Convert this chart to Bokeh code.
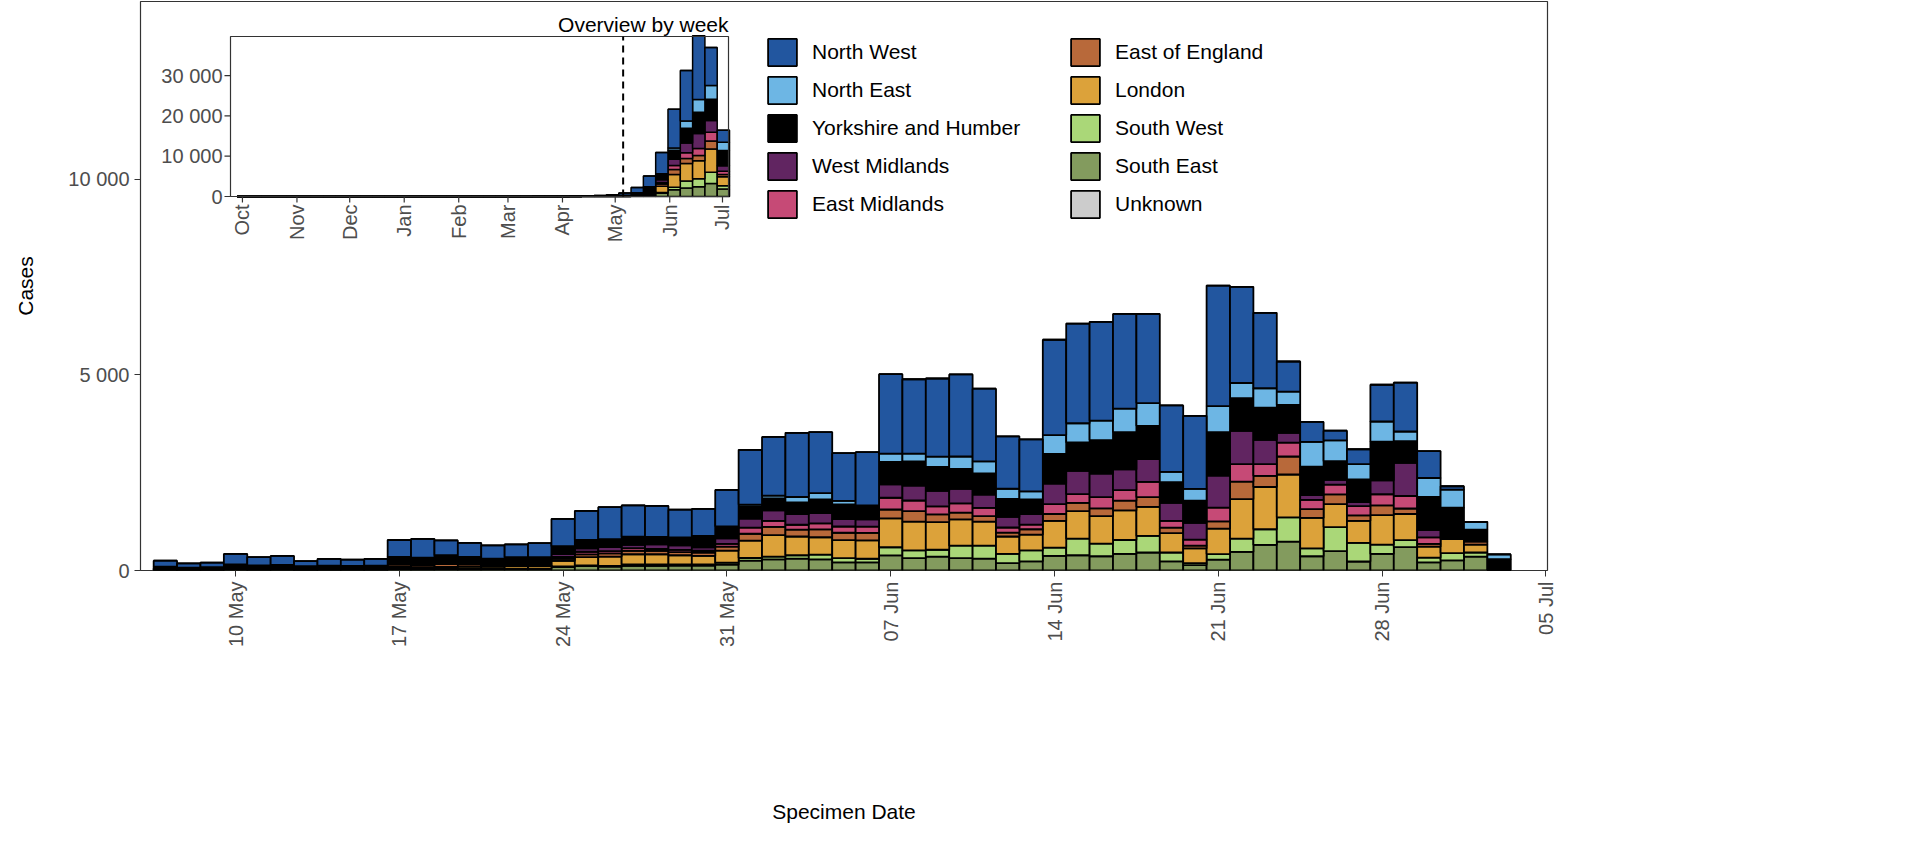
import math
import numpy as np
import pandas as pd
from bokeh.plotting import figure
from bokeh.models import (Range1d, FixedTicker, DatetimeTickFormatter, CustomJSTickFormatter,
                          ColumnDataSource, Legend, LegendItem)
from bokeh.core.properties import value
from bokeh.embed import file_html
from bokeh.resources import INLINE

# ---------------- data ----------------
start_day = "2021-05-07"
n_days = 58
regions = ["North West", "North East", "Yorkshire and Humber", "West Midlands", "East Midlands",
           "East of England", "London", "South West", "South East", "Unknown"]
colors = ["#22569f", "#6db6e4", "#000000", "#612561", "#c64a76",
          "#b8693a", "#dca23a", "#aad778", "#839b5e", "#cccccc"]
stack_order = ["South East", "South West", "London", "East of England", "East Midlands",
               "West Midlands", "Yorkshire and Humber", "North East", "North West", "Unknown"]

north_west = [150, 110, 120, 270, 210, 230, 130, 170, 160, 170, 430, 480, 380, 360, 340, 330, 360,
              700, 740, 820, 800, 790, 710, 690, 930,
              1400, 1500, 1640, 1560, 1220, 1360,
              2030, 1900, 2000, 2100, 1860, 1340, 1330,
              2440, 2550, 2530, 2420, 2280, 1700, 1870,
              3080, 2460, 1930, 770, 510, 250, 380,
              940, 1250, 690, 85, 0, 0]
north_east = [0] * 25 + [55, 70, 140, 160, 90, 30,
              210, 200, 260, 320, 305, 260, 210,
              480, 490, 495, 600, 580, 260, 300,
              670, 390, 495, 340, 635, 530, 390,
              515, 250, 480, 465, 200, 120]
yorkshire = [50, 35, 40, 80, 70, 75, 60, 65, 60, 65, 175, 175, 190, 155, 140, 170, 170,
             200, 220, 200, 210, 190, 200, 290, 310,
             300, 305, 300, 355, 375, 325,
             580, 620, 615, 510, 545, 460, 370,
             755, 730, 860, 955, 850, 530, 565,
             1110, 835, 825, 715, 730, 480, 580,
             990, 550, 850, 805, 300, 290]
west_midlands = [5] * 10 + [10, 10, 15, 15, 15, 15, 15,
                 70, 85, 105, 85, 120, 120, 90, 140,
                 235, 270, 270, 260, 190, 190,
                 340, 380, 395, 370, 340, 270, 270,
                 530, 590, 600, 530, 585, 460, 430,
                 815, 850, 620, 250, 120, 120, 105,
                 355, 850, 190, 0, 0, 0]
east_midlands = [5] * 10 + [15, 15, 20, 20, 20, 20, 20,
                 50, 70, 55, 65, 45, 55, 50, 70,
                 155, 155, 125, 155, 160, 160,
                 300, 270, 205, 235, 210, 130, 120,
                 250, 225, 285, 270, 390, 175, 155,
                 355, 445, 300, 355, 235, 250, 235,
                 285, 320, 165, 0, 0, 0]
east_of_england = [10, 8, 8, 15, 12, 15, 10, 12, 12, 12, 55, 50, 70, 55, 30, 25, 25,
                   55, 70, 85, 90, 90, 80, 80, 100,
                   175, 210, 175, 200, 190, 190,
                   225, 270, 200, 175, 140, 100, 140,
                   175, 210, 200, 250, 250, 140, 70,
                   185, 450, 285, 460, 225, 250, 140,
                   250, 140, 70, 0, 85, 0]
london = [15, 10, 12, 25, 20, 22, 15, 20, 18, 20, 50, 40, 50, 50, 50, 60, 60,
          140, 210, 235, 260, 260, 235, 220, 310,
          445, 550, 480, 445, 460, 470,
          740, 735, 705, 670, 615, 445, 400,
          685, 705, 705, 755, 740, 495, 375,
          650, 1010, 1080, 1095, 780, 585, 565,
          755, 670, 280, 355, 200, 0]
south_west = [3] * 10 + [10] * 7 + [15, 20, 20, 35, 35, 30, 30, 50,
              70, 70, 85, 120, 105, 90,
              210, 200, 175, 320, 330, 235, 280,
              210, 425, 320, 355, 425, 225, 50,
              140, 340, 400, 620, 200, 615, 475,
              235, 175, 120, 185, 105, 0]
south_east = [12, 8, 10, 20, 15, 18, 12, 15, 14, 15, 35, 30, 35, 40, 40, 40, 40,
              90, 110, 100, 120, 120, 125, 125, 150,
              250, 285, 305, 285, 210, 210,
              385, 315, 355, 315, 305, 190, 235,
              375, 390, 365, 425, 460, 235, 140,
              280, 475, 655, 740, 365, 495, 230,
              425, 600, 210, 260, 355, 0]
unknown = [0] * n_days

# weekly overview: weeks (Monday starts) before the daily window
early_week_start = "2020-09-28"
early_nw = [3, 3, 2, 2, 2, 3, 2, 2, 3, 3, 2, 3, 4, 4, 3, 3, 4, 5, 6, 8, 10, 10, 12, 15, 18, 20, 25, 40, 80, 140, 260, 520]
early_yorks = [1, 1, 1, 1, 1, 1, 1, 1, 1, 1, 1, 1, 2, 2, 2, 2, 2, 2, 3, 3, 4, 4, 5, 6, 6, 8, 10, 15, 30, 50, 90, 180]
early_london = [1, 1, 1, 1, 1, 1, 1, 1, 1, 1, 1, 1, 2, 2, 2, 2, 3, 3, 4, 5, 6, 6, 8, 10, 12, 15, 20, 30, 45, 70, 100, 160]

main_ticks = ["2021-05-10", "2021-05-17", "2021-05-24", "2021-05-31", "2021-06-07",
              "2021-06-14", "2021-06-21", "2021-06-28", "2021-07-05"]
main_yticks = [0, 5000, 10000]
inset_month_ticks = ["2020-10-01", "2020-11-01", "2020-12-01", "2021-01-01", "2021-02-01",
                     "2021-03-01", "2021-04-01", "2021-05-01", "2021-06-01", "2021-07-01"]
inset_month_labels = ["Oct", "Nov", "Dec", "Jan", "Feb", "Mar", "Apr", "May", "Jun", "Jul"]
inset_yticks = [0, 10000, 20000, 30000]

# ---------------- helpers ----------------
DAY = 86400000.0
def ms(s):
    return pd.Timestamp(s).value / 1e6

def fmt_space(v):
    return f"{int(v):,}".replace(",", " ")

FONT = "Liberation Sans"
series = dict(zip(regions, [north_west, north_east, yorkshire, west_midlands, east_midlands,
                            east_of_england, london, south_west, south_east, unknown]))
col = dict(zip(regions, colors))
keys = [f"r{i}" for i in range(len(stack_order))]

days_ms = [ms(start_day) + i * DAY for i in range(n_days)]
src = ColumnDataSource(dict(x=days_ms, **{k: series[r] for k, r in zip(keys, stack_order)}))

# weekly aggregation
n_early = len(early_nw)
week_starts = [ms(early_week_start) + 7 * i * DAY for i in range(n_early)]
wdata = {k: [] for k in keys}
for i in range(n_early):
    for k, r in zip(keys, stack_order):
        v = {"North West": early_nw[i], "Yorkshire and Humber": early_yorks[i], "London": early_london[i]}.get(r, 0)
        wdata[k].append(v)
ws = ms(early_week_start) + 7 * n_early * DAY
last = days_ms[-1]
while ws <= last:
    week_starts.append(ws)
    for k, r in zip(keys, stack_order):
        wdata[k].append(sum(v for d, v in zip(days_ms, series[r]) if ws <= d < ws + 7 * DAY))
    ws += 7 * DAY
wsrc = ColumnDataSource(dict(x=[w + 3.5 * DAY for w in week_starts], **wdata))

# ---------------- figure ----------------
FW, FH = 1407, 569
p = figure(width=1903, height=832, output_backend="svg", toolbar_location=None,
           x_axis_type="datetime",
           x_range=Range1d(ms("2021-05-05 22:30"), ms("2021-07-05 01:40")),
           y_range=Range1d(0, 14550),
           min_border_left=140, min_border_right=356, min_border_top=1, min_border_bottom=262)
p.xgrid.visible = False
p.ygrid.visible = False
p.outline_line_color = "#333333"
p.outline_line_width = 1.2
p.background_fill_color = "white"

renderers = p.vbar_stack(keys, x="x", width=DAY, color=[col[r] for r in stack_order],
                         line_color="black", line_width=1.8, source=src)

for ax in (p.xaxis[0], p.yaxis[0]):
    ax.axis_line_color = None
    ax.major_tick_line_color = "#333333"
    ax.major_tick_out = 6
    ax.major_tick_in = 0
    ax.minor_tick_line_color = None
    ax.major_label_text_font = FONT
    ax.major_label_text_font_size = "20px"
    ax.major_label_text_color = "#4d4d4d"
    ax.axis_label_text_font = FONT
    ax.axis_label_text_font_size = "21px"
    ax.axis_label_text_font_style = "normal"
    ax.axis_label_text_color = "black"

p.xaxis.ticker = FixedTicker(ticks=[ms(t) for t in main_ticks])
p.xaxis.formatter = DatetimeTickFormatter(days="%d %b", months="%d %b", hours="%d %b", years="%d %b")
p.xaxis.major_label_orientation = math.pi / 2
p.xaxis.axis_label = "Specimen Date"
p.xaxis.axis_label_standoff = 150
p.yaxis.ticker = FixedTicker(ticks=main_yticks)
p.yaxis.formatter = CustomJSTickFormatter(code="return tick.toString().replace(/\\B(?=(\\d{3})+(?!\\d))/g, ' ');")
p.yaxis.axis_label = "Cases"
p.yaxis.axis_label_standoff = 28

# ---------------- inset (via extra ranges) ----------------
IL, IR, IT, IB = 90, 588, 35, 195          # inset box in frame pixels (from left / top)
ix0, ix1 = ms("2020-09-24 05:00"), ms("2021-07-04 10:00")
iy0, iy1 = 0, 39700
xpp = (ix1 - ix0) / (IR - IL)
ypp = (iy1 - iy0) / (IB - IT)
p.extra_x_ranges = {"ix": Range1d(ix0 - IL * xpp, ix1 + (FW - IR) * xpp)}
p.extra_y_ranges = {"iy": Range1d(iy0 - (FH - IB) * ypp, iy1 + IT * ypp)}
R = dict(x_range_name="ix", y_range_name="iy")

p.vbar_stack(keys, x="x", width=7 * DAY, color=[col[r] for r in stack_order],
             line_color="black", line_width=1.5, source=wsrc, **R)
p.quad(left=[ix0], right=[ix1], bottom=[iy0], top=[iy1], fill_color=None,
       line_color="#333333", line_width=1.2, **R)
p.segment(x0=[ms(start_day) - 1.5 * DAY], x1=[ms(start_day) - 1.5 * DAY], y0=[iy0], y1=[iy1],
          line_color="black", line_width=2, line_dash="7 5", **R)
# inset y ticks
p.segment(x0=[ix0 - 6 * xpp] * len(inset_yticks), x1=[ix0] * len(inset_yticks),
          y0=inset_yticks, y1=inset_yticks, line_color="#333333", line_width=1.2, **R)
p.text(x=[ix0 - 8 * xpp] * len(inset_yticks), y=inset_yticks, text=[fmt_space(v) for v in inset_yticks],
       text_font=value(FONT), text_font_size=value("20px"), text_color="#4d4d4d",
       text_align="right", text_baseline="middle", **R)
# inset x ticks
mt = [ms(t) for t in inset_month_ticks]
p.segment(x0=mt, x1=mt, y0=[iy0] * len(mt), y1=[iy0 - 6 * ypp] * len(mt),
          line_color="#333333", line_width=1.2, **R)
p.text(x=mt, y=[iy0 - 8 * ypp] * len(mt), text=inset_month_labels, angle=math.pi / 2,
       text_font=value(FONT), text_font_size=value("20px"), text_color="#4d4d4d",
       text_align="right", text_baseline="middle", **R)
p.text(x=[ix1], y=[iy1 + 1 * ypp], text=["Overview by week"], text_font=value(FONT),
       text_font_size=value("21px"), text_color="black", text_align="right",
       text_baseline="bottom", **R)

# ---------------- legend ----------------
rmap = dict(zip(stack_order, renderers))
legend = Legend(items=[LegendItem(label=r, renderers=[rmap[r]]) for r in regions],
                location=(624, 349), orientation="vertical", nrows=5,
                glyph_width=36, glyph_height=34, label_height=34, label_width=251,
                label_standoff=12, spacing=4, padding=0, margin=0,
                label_text_font=FONT, label_text_font_size="21px", label_text_color="black",
                border_line_color=None, background_fill_alpha=0)
p.add_layout(legend, "center")

open("out.html", "w").write(file_html(p, INLINE))
